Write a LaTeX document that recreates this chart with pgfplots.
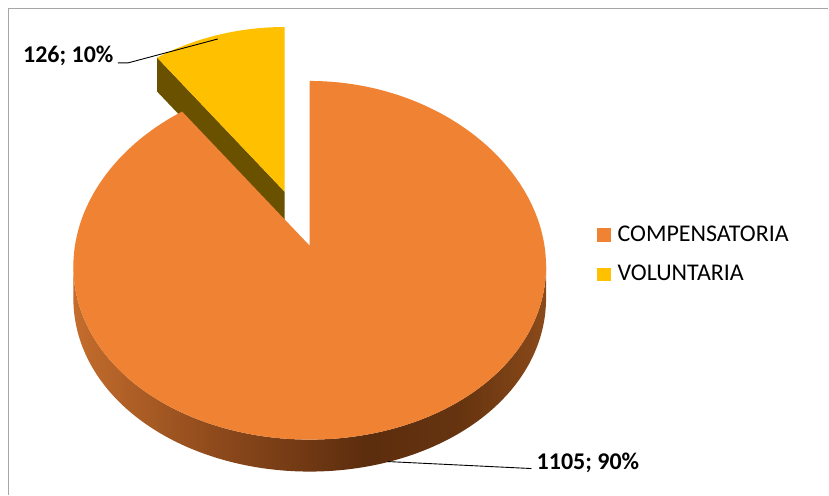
\documentclass[border=0pt]{standalone}
\usepackage{fontspec}
\setmainfont{Carlito}
\usepackage{pgfplots}
\pgfplotsset{compat=1.18}
\definecolor{otop}{HTML}{EF8233}
\definecolor{ytop}{HTML}{FFC000}
\definecolor{ydark}{HTML}{6A5100}
\definecolor{sL}{HTML}{C46D2D}
\definecolor{sM}{HTML}{8E4A1C}
\definecolor{sD}{HTML}{5C2D0E}
\definecolor{sD2}{HTML}{66340F}
\definecolor{sR}{HTML}{8B4A1A}
\definecolor{frame}{HTML}{A6A6A6}
\pgfdeclarehorizontalshading{sideshade}{100bp}{color(0bp)=(sL); color(25bp)=(sL); color(40bp)=(sM); color(56bp)=(sD); color(66bp)=(sD2); color(75bp)=(sR); color(100bp)=(sR)}
\begin{document}
\begin{tikzpicture}[x=1pt,y=1pt,
  declare function={ex(\t)=235*cos(\t)*(1-0.117*sin(\t)); ey(\t)=179.5*sin(\t)*(1-0.081*sin(\t));}]
\pgfmathsetmacro{\va}{1105}
\pgfmathsetmacro{\vb}{126}
\pgfmathsetmacro{\frac}{\vb/(\va+\vb)}
\pgfmathsetmacro{\ang}{360*\frac}
\pgfmathsetmacro{\yb}{90+\ang}
\begin{axis}[x=1pt,y=1pt,anchor=origin,at={(0,0)},disabledatascaling,
  hide axis,clip=false,scale only axis,
  xmin=0,xmax=829,ymin=0,ymax=495]
% background and frame
\fill[white] (0,0) rectangle (829,495);
\draw[frame,line width=1.6pt] (8.5,0) -- (8.5,486.3) -- (829,486.3);
% yellow exploded slice: side then top
\fill[ydark] (285,303) -- ({285+ex(\yb)},{303+ey(\yb)}) -- ({285+ex(\yb)},{269+ey(\yb)}) -- (285,269) -- cycle;
\fill[ytop] (285,303) -- plot[domain=90:\yb,samples=60,variable=\t] ({285+ex(\t)},{303+ey(\t)}) -- cycle;
% orange side band
\shade[shading=sideshade] plot[domain=186.7:353.3,samples=150,variable=\t] ({310+ex(\t)},{249+ey(\t)}) -- plot[domain=353.3:186.7,samples=150,variable=\t] ({310+ex(\t)},{217+ey(\t)}) -- cycle;
% orange top
\fill[otop] (310,249) -- plot[domain=\yb:450,samples=240,variable=\t] ({310+ex(\t)},{249+ey(\t)}) -- cycle;
% data labels
\draw[black,line width=0.9pt] (388,33) -- (532,26);
\node[anchor=base west,inner sep=0pt,font=\fontsize{24}{28}\selectfont\bfseries] at (537,25) {1105; 90\%};
\draw[black,line width=0.9pt] (118,432) -- (128,432) -- (218,456);
\node[anchor=base west,inner sep=0pt,font=\fontsize{24}{28}\selectfont\bfseries] at (23,432) {126; 10\%};
% legend
\fill[otop] (598,253) rectangle (612,267);
\node[anchor=base west,inner sep=0pt,font=\fontsize{24}{28}\selectfont] at (618,253) {COMPENSATORIA};
\fill[ytop] (598,214) rectangle (612,227);
\node[anchor=base west,inner sep=0pt,font=\fontsize{24}{28}\selectfont] at (618,214) {VOLUNTARIA};
\end{axis}
\end{tikzpicture}
\end{document}
